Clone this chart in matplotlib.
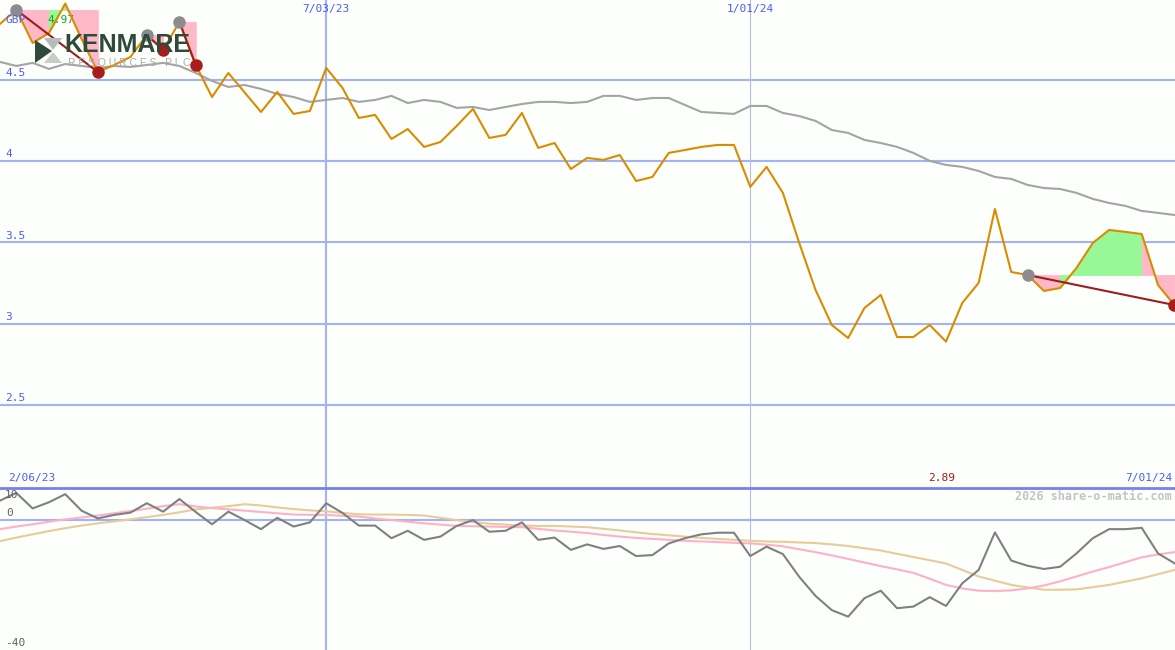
import matplotlib
matplotlib.use("Agg")
import matplotlib.pyplot as plt
from matplotlib.patches import Polygon
import numpy as np

# weekly closes (index 0 .. 72)
price = [4.845, 4.931, 4.728, 4.789, 4.970, 4.752, 4.549, 4.592, 4.642, 4.777,
         4.685, 4.857, 4.592, 4.395, 4.543, 4.423, 4.303, 4.426, 4.291, 4.309,
         4.574, 4.451, 4.266, 4.285, 4.137, 4.198, 4.088, 4.118, 4.217, 4.322,
         4.143, 4.162, 4.297, 4.082, 4.112, 3.952, 4.020, 4.008, 4.038, 3.878,
         3.903, 4.051, 4.069, 4.088, 4.100, 4.100, 3.842, 3.965, 3.805, 3.497,
         3.208, 2.992, 2.912, 3.097, 3.177, 2.918, 2.918, 2.992, 2.890, 3.128,
         3.251, 3.706, 3.318, 3.300, 3.202, 3.220, 3.343, 3.497, 3.577, 3.565,
         3.552, 3.238, 3.115]

# moving average (grey)
ma = [4.611, 4.586, 4.605, 4.568, 4.598, 4.586, 4.574, 4.586, 4.580, 4.592,
      4.605, 4.586, 4.543, 4.494, 4.457, 4.469, 4.445, 4.414, 4.395, 4.365,
      4.377, 4.389, 4.365, 4.377, 4.402, 4.358, 4.377, 4.365, 4.328, 4.334,
      4.315, 4.334, 4.352, 4.365, 4.365, 4.358, 4.365, 4.402, 4.402, 4.377,
      4.389, 4.389, 4.346, 4.303, 4.297, 4.291, 4.340, 4.340, 4.297, 4.278,
      4.248, 4.192, 4.174, 4.131, 4.112, 4.088, 4.051, 4.002, 3.977, 3.965,
      3.940, 3.903, 3.891, 3.854, 3.835, 3.829, 3.805, 3.768, 3.743, 3.725,
      3.694, 3.682, 3.669]

# lower panel
osc = [6.1, 8.5, 3.7, 5.6, 8.1, 3.0, 0.6, 1.7, 2.4, 5.3,
       2.7, 6.6, 2.6, -1.2, 2.7, 0.1, -2.7, 0.8, -1.9, -0.6,
       5.3, 2.3, -1.6, -1.6, -5.5, -3.2, -6.0, -5.0, -1.7, 0.1,
       -3.5, -3.2, -0.6, -6.0, -5.3, -9.1, -7.4, -8.8, -7.9, -11.0,
       -10.7, -7.1, -5.5, -4.3, -3.8, -3.8, -11.0, -8.1, -10.4, -17.4,
       -23.3, -27.7, -29.7, -24.0, -21.7, -27.1, -26.6, -23.7, -26.4, -19.4,
       -15.3, -3.7, -12.4, -14.0, -15.0, -14.3, -10.2, -5.5, -2.7, -2.7,
       -2.3, -10.2, -13.2]
signal = [-2.7, -1.9, -1.2, -0.4, 0.3, 0.9, 1.5, 2.2, 2.9, 3.6,
          4.4, 5.0, 4.3, 3.8, 3.4, 3.0, 2.6, 2.2, 1.8, 1.7,
          1.7, 1.4, 1.2, 0.6, 0.1, -0.4, -0.9, -1.3, -1.7, -1.8,
          -1.9, -2.0, -2.1, -2.6, -3.1, -3.5, -3.9, -4.5, -5.0, -5.4,
          -5.7, -6.0, -6.3, -6.5, -6.7, -6.9, -7.1, -7.5, -8.0, -8.9,
          -9.8, -10.8, -11.9, -13.0, -14.1, -15.1, -16.2, -18.0, -19.9, -21.0,
          -21.7, -21.8, -21.6, -21.0, -20.1, -18.8, -17.3, -15.8, -14.4, -12.9,
          -11.4, -10.5, -9.8]
slow = [-6.4, -5.3, -4.3, -3.3, -2.4, -1.6, -0.9, -0.3, 0.3, 1.0,
        1.7, 2.5, 3.4, 3.9, 4.4, 5.0, 4.6, 4.0, 3.5, 3.1,
        2.8, 2.3, 1.9, 1.8, 1.8, 1.7, 1.5, 0.8, 0.1, -0.5,
        -1.0, -1.3, -1.6, -1.7, -1.7, -1.9, -2.1, -2.6, -3.1, -3.7,
        -4.2, -4.6, -5.0, -5.4, -5.7, -6.0, -6.3, -6.5, -6.6, -6.8,
        -7.0, -7.4, -7.9, -8.6, -9.3, -10.3, -11.3, -12.3, -13.3, -15.3,
        -17.3, -18.6, -19.9, -20.7, -21.4, -21.4, -21.3, -20.6, -19.9, -18.9,
        -17.9, -16.6, -15.3]

# trades: (entry week, exit week)
trades = [(1, 6), (9, 10), (11, 12), (63, 72)]

grid_levels = [2.5, 3, 3.5, 4, 4.5]
grid_labels = ["2.5", "3", "3.5", "4", "4.5"]
date_ticks = [20, 46]
date_labels = ["7/03/23", "1/01/24"]

W, H = 1175, 650
BG = "#fcfffc"
BLUE_TXT = "#4a5ef0"
GRID = "#a3b2f2"
MONO = "DejaVu Sans Mono"

x = np.arange(len(price))
price = np.array(price)

fig = plt.figure(figsize=(W / 100, H / 100), dpi=100, facecolor=BG)
main_h = 488 / H
ax = fig.add_axes([0, 1 - main_h, 1, main_h], facecolor=BG)
ax2 = fig.add_axes([0, 0, 1, 1 - main_h], facecolor=BG)
for a in (ax, ax2):
    for s in a.spines.values():
        s.set_visible(False)
    a.set_xticks([])
    a.set_yticks([])
    a.set_xlim(0, 72.04)

ax.set_ylim(1.989, 4.992)
ax2.set_ylim(-40, 10)

# grid
for lv in grid_levels:
    ax.axhline(lv, color=GRID, lw=1.5, zorder=1)
ax.axvline(date_ticks[0], color=GRID, lw=1.5, zorder=1)
ax.axvline(date_ticks[1], color="#b4bce6", lw=0.8, zorder=1)
ax2.axvline(date_ticks[0], color=GRID, lw=1.5, zorder=1)
ax2.axvline(date_ticks[1], color="#b4bce6", lw=0.8, zorder=1)
ax2.axhline(0, color=GRID, lw=1.5, zorder=1)
ax2.axhline(10, color="#7282ee", lw=2, zorder=5, clip_on=False)

# trade fills (colour per week: above / below the entry price)
for a_, b_ in trades:
    level = price[a_]
    for j in range(a_, b_):
        col = "#98f898" if price[j + 1] >= level else "#ffb8c8"
        ax.fill_between(x[j:j + 2], level, price[j:j + 2], facecolor=col,
                        edgecolor=col, lw=0.6, zorder=2)

# logo
def px(xp, yp):
    return (xp / W, 1 - yp / H)

fig.patches.append(Polygon([px(35, 40), px(52, 51), px(35, 63)], closed=True,
                           transform=fig.transFigure, fc="#2f4a38", ec="none", zorder=3))
fig.patches.append(Polygon([px(44, 38), px(62, 38), px(53, 50)], closed=True,
                           transform=fig.transFigure, fc="#b8bcb8", ec="none", zorder=3))
fig.patches.append(Polygon([px(53, 52), px(62, 63), px(44, 63)], closed=True,
                           transform=fig.transFigure, fc="#c8ccc8", ec="none", zorder=3))
fig.text(*px(64, 52), "KENMARE", family="Liberation Sans", weight="bold",
         fontsize=18, color="#2f4a38", va="baseline", ha="left", zorder=3)
fig.text(*px(68, 57.5), "R E S O U R C E S   P L C", family="Liberation Sans",
         fontsize=7.5, color="#a8aca8", va="top", ha="left", zorder=3)

# lines
ax.plot(x, ma, color="#a4a4a4", lw=1.5, zorder=6)
ax.plot(x, price, color="#da8c00", lw=1.5, zorder=7)
for a_, b_ in trades:
    ax.plot([a_, b_], [price[a_], price[b_]], color="#a01c1c", lw=1.5, zorder=8)
    ax.plot(a_, price[a_], "o", ms=8, color="#8c8c8c", zorder=9)
    ax.plot(b_, price[b_], "o", ms=8, color="#a81c1c", zorder=9)

ax2.plot(x, slow, color="#e6cc9a", lw=1.5, zorder=3)
ax2.plot(x, signal, color="#ffb0c8", lw=1.5, zorder=4)
ax2.plot(x, osc, color="#808080", lw=1.5, zorder=5)

# labels
ytr = ax.get_yaxis_transform()
xtr = ax.get_xaxis_transform()
for lv, lb in zip(grid_levels, grid_labels):
    ax.text(5 / W, lv + 0.012, lb, transform=ytr, family=MONO, fontsize=8,
            color=BLUE_TXT, va="bottom", ha="left", zorder=10)
for t, lb in zip(date_ticks, date_labels):
    ax.text(t, 1 - 9 / 488, lb, transform=xtr, family=MONO, fontsize=8,
            color=BLUE_TXT, va="center", ha="center", zorder=10)
ax.text(5 / W, 1 - 20 / 488, "GBP", transform=ax.transAxes, family=MONO,
        fontsize=8, color=BLUE_TXT, va="center", ha="left", zorder=10)
imax = int(np.argmax(price))
ax.text(imax - 0.25, 1 - 20 / 488, "%.2f" % price[imax], transform=xtr, family=MONO,
        fontsize=8, color="#22a022", va="center", ha="center", zorder=4)
imin = int(np.argmin(price))
ax.text(imin - 0.25, 10 / 488, "%.2f" % price[imin], transform=xtr, family=MONO,
        fontsize=8, color="#a01c1c", va="center", ha="center", zorder=10)
ax.text(8 / W, 10 / 488, "2/06/23", transform=ax.transAxes, family=MONO,
        fontsize=8, color=BLUE_TXT, va="center", ha="left", zorder=10)
ax.text(1172 / W, 10 / 488, "7/01/24", transform=ax.transAxes, family=MONO,
        fontsize=8, color=BLUE_TXT, va="center", ha="right", zorder=10)

y2tr = ax2.get_yaxis_transform()
ax2.text(5 / W, 9.5, "10", transform=y2tr, family=MONO, fontsize=8,
         color="#606060", va="top", ha="left", zorder=10)
ax2.text(6 / W, 0.8, "0", transform=y2tr, family=MONO, fontsize=8,
         color="#606060", va="bottom", ha="left", zorder=10)
ax2.text(5 / W, -39.5, "-40", transform=y2tr, family=MONO, fontsize=8,
         color="#606060", va="bottom", ha="left", zorder=10)
ax2.text(1172 / W, 1 - 8 / 162, "2026 share-o-matic.com", transform=ax2.transAxes,
         family=MONO, fontsize=8.5, weight="bold", color="#c4c4c4",
         va="center", ha="right", zorder=10)

fig.savefig("out.png", dpi=100, facecolor=BG)
